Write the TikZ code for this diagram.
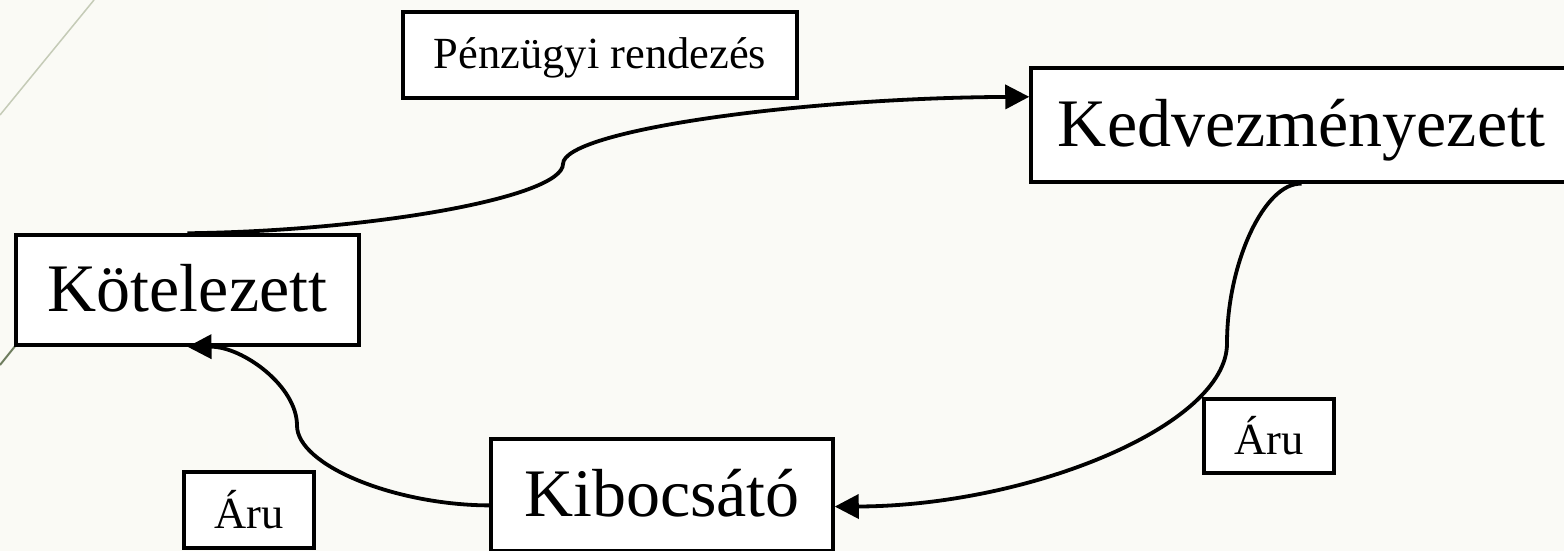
\documentclass[tikz,border=0pt]{standalone}
\usepackage{fontspec}
\setmainfont{Liberation Serif}
\usetikzlibrary{arrows.meta,calc}
\definecolor{bgl}{RGB}{236,234,214}
\definecolor{bgm}{RGB}{247,247,238}
\definecolor{bgw}{RGB}{250,250,246}
\definecolor{bgr}{RGB}{243,242,229}
\definecolor{decolight}{RGB}{197,203,183}
\definecolor{decodark}{RGB}{110,125,94}
\pgfdeclarehorizontalshading{bgshade}{100bp}{color(0bp)=(bgl); color(250bp)=(bgm); color(800bp)=(bgw); color(1300bp)=(bgm); color(1564bp)=(bgr)}
\begin{document}
\begin{tikzpicture}[x=1pt,y=-1pt,
  box/.style={draw=black,fill=white,line width=3.5pt,inner sep=0pt},
  big/.style={font=\fontsize{68pt}{80pt}\selectfont,text height=52pt,text depth=10pt},
  small/.style={font=\fontsize{44.5pt}{52pt}\selectfont},
  conn/.style={line width=3.8pt,-{Triangle[length=24pt,width=24pt]}},
  deco/.style={line width=1.5pt}]
\useasboundingbox (0,0) rectangle (1564,550);
\clip (0,0) rectangle (1564,550);
\shade[shading=bgshade] (0,0) rectangle (1564,550);
% decorative corner lines
\coordinate (d1) at (0,115);
\coordinate (d2) at (94,0);
\coordinate (d3) at (0,365);
\coordinate (d4) at (40,315);
\draw[deco,decolight] (d1) -- (d2);
\draw[deco,decodark,line width=2pt] (d3) -- (d4);
% boxes
\node[box,big,minimum width=343pt,minimum height=110pt] (kot) at (187.5,290) {Kötelezett};
\node[box,big,minimum width=541pt,minimum height=114pt] (ked) at (1301.5,125) {Kedvezményezett};
\node[box,big,minimum width=342pt,minimum height=112pt] (kib) at (662,495) {Kibocsátó};
\node[box,small,minimum width=394pt,minimum height=86pt,text height=30pt,text depth=4pt] (penz) at (600,55) {Pénzügyi rendezés};
\node[box,small,minimum width=130pt,minimum height=74pt,text height=40pt,text depth=4pt] (aru1) at (1269,436) {Áru};
\node[box,small,minimum width=130pt,minimum height=76pt,text height=40pt,text depth=4pt] (aru2) at (249,510) {Áru};
% connector end points
\coordinate (e1) at ($(ked.north west)!0.26!(ked.south west)$);
\coordinate (e2) at ($(kib.north east)!0.6!(kib.south east)$);
\coordinate (s3) at ($(kib.north west)!0.59!(kib.south west)$);
\coordinate (m1) at (563,164);
\coordinate (m2) at (1227,343.5);
\coordinate (m3) at (297,425.5);
% connectors
\draw[conn] (kot.north) .. controls (373.5,231) and (563,197) .. (m1)
  .. controls (563,131) and (797,98) .. (e1);
\draw[conn] (ked.south) .. controls (1265,182) and (1227,262) .. (m2)
  .. controls (1227,425) and (1030,506) .. (e2);
\draw[conn] (s3) .. controls (394,505) and (297,465) .. (m3)
  .. controls (297,386) and (242.5,346.5) .. (kot.south);
\end{tikzpicture}
\end{document}
